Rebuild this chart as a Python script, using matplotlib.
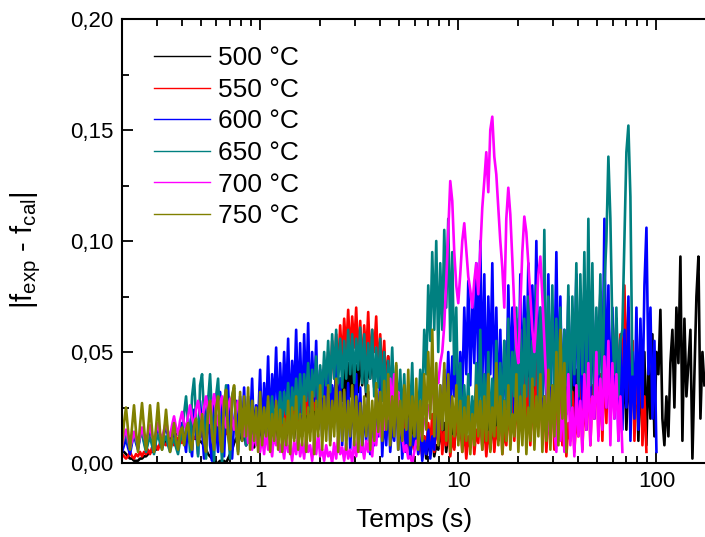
import numpy as np
import matplotlib
matplotlib.use("Agg")
import matplotlib.pyplot as plt
from matplotlib.ticker import LogLocator, FixedLocator, FuncFormatter, NullFormatter

plt.rcParams['font.family'] = ['Liberation Sans', 'DejaVu Sans']
plt.rcParams['mathtext.fontset'] = 'custom'
plt.rcParams['mathtext.rm'] = 'Liberation Sans'

# ---------------- data (values in units of 0.001) ----------------
labels = ["500 °C", "550 °C", "600 °C", "650 °C", "700 °C", "750 °C"]
colors = ["#000000", "#FF0000", "#0000FF", "#008080", "#FF00FF", "#808000"]

# time span (s) of each recorded series (samples log-spaced in time)
t_span = [(0.2, 174.7), (0.2, 89.0), (0.2, 100.0), (0.2, 75.6), (0.2, 67.3), (0.2, 35.1)]

y500 = [5,5,4,3,2,2,1,1,1,2,
        2,3,3,4,5,5,6,6,7,8,
        8,9,10,10,11,12,12,13,13,13,
        13,12,12,12,11,12,11,11,10,10,
        9,8,6,4,3,2,1,0,0,1,
        0,1,0,2,4,6,9,11,12,13,
        10,15,8,17,11,19,7,14,12,20,
        9,18,13,22,8,16,12,21,10,19,
        14,24,9,20,15,26,11,22,16,25,
        12,24,18,28,14,26,20,30,15,27,
        18,32,22,36,20,34,26,40,24,38,
        28,42,25,45,30,48,27,44,32,50,
        35,48,30,45,38,52,34,46,40,50,
        42,50,36,48,30,44,26,38,20,34,
        15,30,12,26,10,22,8,18,6,16,
        4,12,2,10,5,14,3,8,6,15,
        8,18,5,14,10,22,7,20,12,26,
        10,24,14,30,12,28,18,32,15,26,
        8,20,12,25,6,18,10,22,14,30,
        12,28,18,36,22,40,16,34,25,45,
        30,50,26,55,35,60,30,52,40,64,
        45,68,50,70,42,62,48,66,38,58,
        30,50,22,45,28,52,20,42,32,55,
        25,48,35,60,30,55,40,65,45,77,
        40,60,30,55,25,50,35,62,28,52,
        20,45,15,40,25,55,18,48,10,42,
        15,50,8,45,20,58,12,50,40,69,
        20,8,30,12,45,60,25,70,45,93,
        10,65,30,45,60,2,40,75,93,20,
        50,35]

y550 = [4,3,2,3,5,3,2,4,3,5,
        3,5,4,6,4,7,5,8,6,9,
        7,9,8,10,9,11,8,12,10,11,
        9,12,10,13,9,14,11,12,10,15,
        12,16,10,18,13,15,9,20,14,17,
        11,19,13,22,10,18,15,21,12,20,
        14,23,11,20,16,25,12,21,17,24,
        13,22,15,26,12,20,16,27,14,23,
        15,25,18,28,13,24,19,30,16,27,
        18,30,22,34,20,36,24,38,26,40,
        28,44,32,50,35,55,38,58,42,62,
        45,65,50,69,48,66,52,70,46,64,
        42,62,48,68,44,60,50,66,40,58,
        38,55,30,48,25,42,20,35,15,28,
        8,20,5,15,3,12,6,18,4,10,
        3,12,6,18,8,22,5,16,10,26,
        4,14,8,20,3,12,6,25,10,18,
        5,16,2,12,7,22,4,15,9,28,
        6,18,3,14,8,24,5,16,10,30,
        4,15,8,25,12,35,10,28,15,40,
        12,45,18,38,8,30,14,50,20,42,
        10,30,5,22,12,35,6,28,15,40,
        8,25,3,18,10,32,5,22,12,38,
        6,30,15,45,8,35,20,50,12,40,
        10,45,18,55,22,48,30,65,25,58,
        35,80,40,70,20,55,10,40,25,60,
        8,30,5]

y600 = [5,8,11,7,4,9,13,9,6,12,
        15,10,6,10,14,9,5,11,16,12,
        8,13,17,12,7,11,15,10,6,14,
        18,12,5,20,10,3,24,14,4,28,
        15,2,22,30,8,1,26,16,5,32,
        20,3,25,35,10,2,18,28,6,30,
        12,34,8,30,15,38,10,26,18,42,
        10,36,20,48,14,40,25,52,18,45,
        22,50,28,56,20,46,30,60,24,54,
        20,58,30,63,22,50,28,55,18,42,
        12,40,15,48,10,35,20,45,14,38,
        8,32,12,36,6,28,15,40,10,34,
        5,26,10,32,4,22,8,30,12,40,
        3,22,8,28,5,18,10,35,6,25,
        2,15,5,20,3,12,8,22,4,18,
        1,10,4,15,2,12,6,25,10,35,
        15,42,25,50,20,48,30,55,25,50,
        30,70,40,82,35,75,45,90,40,100,
        35,85,25,75,40,90,30,70,20,60,
        15,55,25,80,35,70,20,65,30,85,
        25,75,40,90,30,80,45,100,35,70,
        20,65,30,85,25,70,40,95,30,75,
        20,60,30,75,25,65,35,85,20,70,
        25,70,15,60,30,80,20,65,35,75,
        30,110,25,80,15,70,20,65,10,55,
        15,60,25,75,10,50,20,70,15,65,
        25,80,106,40,70,20,55,5]

y650 = [8,11,13,9,6,10,14,10,7,12,
        13,9,5,9,12,8,4,10,13,9,
        6,10,12,8,5,9,11,7,4,10,
        12,22,30,18,5,30,38,20,3,35,
        40,22,2,28,40,20,1,30,38,18,
        0,25,35,15,2,30,34,16,5,28,
        10,25,8,22,14,28,12,20,16,26,
        15,24,12,28,18,30,14,26,20,32,
        18,32,22,36,16,34,24,38,20,40,
        22,40,28,45,24,42,30,48,26,44,
        30,50,35,55,32,58,38,60,36,56,
        34,55,38,60,40,58,36,56,42,61,
        36,58,32,54,38,60,30,52,34,56,
        28,50,24,46,30,52,26,44,22,42,
        18,40,15,35,22,45,12,30,20,42,
        25,60,40,80,55,95,60,100,50,90,
        60,105,70,110,55,95,40,70,20,45,
        10,35,15,40,8,30,12,45,18,60,
        12,40,18,50,10,38,20,55,15,45,
        20,55,25,65,15,50,30,70,20,60,
        25,65,30,75,20,55,35,80,25,70,
        30,105,25,75,35,80,20,65,30,70,
        25,60,35,80,20,75,40,90,30,85,
        40,95,30,110,35,90,25,70,40,85,
        30,80,100,138,110,60,40,70,30,55,
        60,100,140,152,120,40]

y700 = [8,12,15,11,7,10,14,11,8,12,
        16,12,9,13,17,12,10,14,18,13,
        11,15,19,14,12,17,21,16,13,19,
        23,18,15,21,26,20,17,24,28,22,
        19,25,30,23,18,26,31,22,17,27,
        30,21,16,25,29,20,15,24,28,18,
        24,12,20,9,18,6,14,8,16,5,
        12,4,15,6,10,3,14,8,11,5,
        9,2,12,5,8,1,10,4,13,3,
        9,2,12,5,8,1,10,4,13,3,
        6,1,8,3,5,0,9,2,12,4,
        7,1,9,2,6,0,10,3,12,5,
        8,2,10,5,12,3,15,8,20,12,
        25,15,30,20,38,25,40,28,32,18,
        12,5,8,2,3,0,5,10,8,15,
        12,20,18,26,24,32,30,38,36,45,
        50,62,82,105,127,118,95,80,72,85,
        100,108,96,84,78,70,82,90,76,95,
        115,127,140,122,150,156,138,130,115,100,
        88,70,110,124,112,92,70,52,45,70,
        95,111,104,90,75,60,50,65,85,93,
        75,55,35,20,10,30,15,5,25,10,
        30,5,20,40,8,25,3,35,12,28,
        5,40,15,45,8,30,20,50,10,38,
        15,48,25,55,8,45,20,40,10,30,
        5]

y750 = [8,18,25,15,6,16,26,14,5,17,
        27,16,6,15,26,15,5,16,27,14,
        6,14,24,13,5,12,18,10,6,14,
        16,8,15,18,9,6,17,20,8,12,
        22,10,5,24,28,12,6,25,30,10,
        5,28,33,12,6,30,35,15,4,32,
        10,30,12,34,6,28,10,25,5,32,
        8,25,12,30,5,22,10,28,6,24,
        5,20,8,28,4,25,10,30,6,22,
        8,30,5,25,10,32,4,28,12,35,
        6,30,10,35,8,28,12,38,5,32,
        10,33,6,28,12,35,8,30,5,27,
        8,30,12,35,6,28,10,36,14,32,
        10,37,15,40,8,30,12,45,6,28,
        10,35,15,42,8,30,12,38,6,28,
        10,40,15,50,20,60,12,45,8,35,
        15,45,10,40,5,30,12,35,8,28,
        5,25,10,30,4,22,8,35,12,28,
        6,30,10,40,5,25,12,45,8,30,
        4,28,10,35,6,22,12,40,5,30,
        8,35,4,25,10,38,6,30,12,40,
        5,30,10,42,6,35,12,50,8,60,
        20,45,5]

series = [y500, y550, y600, y650, y700, y750]

x_ticks = [1, 10, 100]
y_ticks = [0.0, 0.05, 0.10, 0.15, 0.20]

# ---------------- figure ----------------
fig = plt.figure(figsize=(7.05, 5.37), dpi=100)
ax = fig.add_axes([122/705, 74/537, 585/705, 444/537])

for vals, (t0, t1), c, lab in zip(series, t_span, colors, labels):
    y = np.array(vals, float) / 1000.0
    t = np.geomspace(t0, t1, len(y))
    ax.plot(t, y, color=c, lw=1.9, label=lab)

ax.set_xscale('log')
ax.set_xlim(0.2, 180)
ax.set_ylim(0, 0.20)

ax.xaxis.set_major_locator(FixedLocator(x_ticks))
ax.xaxis.set_minor_locator(LogLocator(base=10, subs=np.arange(2, 10)))
ax.xaxis.set_major_formatter(FuncFormatter(lambda v, p: f"{v:g}"))
ax.xaxis.set_minor_formatter(NullFormatter())
ax.yaxis.set_major_locator(FixedLocator(y_ticks))
ax.yaxis.set_minor_locator(FixedLocator([0.025, 0.075, 0.125, 0.175]))
ax.yaxis.set_major_formatter(FuncFormatter(lambda v, p: f"{v:.2f}".replace('.', ',')))

ax.tick_params(which='both', direction='in', top=True, right=False, width=1.3,
               labelsize=16)
ax.tick_params(which='major', length=8, pad=6)
ax.tick_params(which='minor', length=5)
for s in ax.spines.values():
    s.set_linewidth(1.5)
    s.set_zorder(5)
ax.spines['right'].set_visible(False)

ax.set_xlabel('Temps (s)', fontsize=19, labelpad=11)
ax.set_ylabel(r'$\mathregular{|f_{exp}}$ - $\mathregular{f_{cal}|}$', fontsize=21)
ax.yaxis.set_label_coords(-0.135, 0.48)

leg = ax.legend(loc='upper left', bbox_to_anchor=(0.055, 0.939), frameon=False,
                fontsize=19, handlelength=2.1, handletextpad=0.3,
                labelspacing=0.29, borderpad=0, borderaxespad=0)
for h in leg.get_lines():
    h.set_linewidth(1.0)

fig.savefig('out.png', dpi=100)
